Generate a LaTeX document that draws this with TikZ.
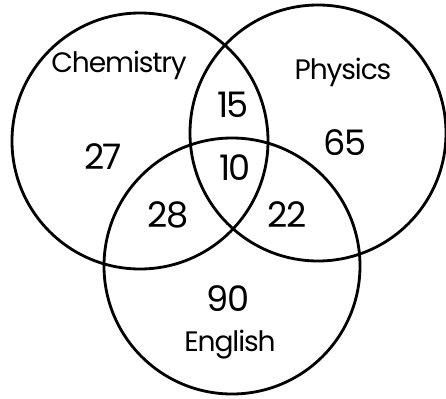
\documentclass[tikz,border=0pt]{standalone}
\usepackage{fontspec}
\setmainfont{Poppins}[LetterSpace=-4]
\usepackage{tikz}
\usetikzlibrary{shapes,positioning,calc}

\begin{document}
\begin{tikzpicture}[every node/.style={font=\fontsize{16}{19}\selectfont},
    setcircle/.style={draw, circle, line width=1.6pt, minimum size=5.12cm, inner sep=0pt},
    count/.style={font=\fontsize{20}{24}\selectfont}]
        \useasboundingbox (0,0) rectangle (8.92,7.96);
        \node[setcircle] (chem) at (2.80,5.14) {};
        \node[setcircle] (phys) at (6.36,5.30) {};
        \node[setcircle] (engl) at (4.64,2.64) {};
        \node (chemlab) at (2.38,6.66) {Chemistry};
        \node (physlab) at (6.86,6.52) {Physics};
        \node (englab) at (4.60,1.06) {English};
        \node[count] (nc) at (2.06,4.82) {27};
        \node[count] (np) at (6.90,5.10) {65};
        \node[count] (ne) at (4.56,1.98) {90};
        \node[count] (ncp) at (4.66,5.86) {15};
        \node[count] (nce) at (3.36,3.66) {28};
        \node[count] (npe) at (5.74,3.66) {22};
        \node[count] (nall) at (4.70,4.60) {10};
    \end{tikzpicture}
\end{document}
